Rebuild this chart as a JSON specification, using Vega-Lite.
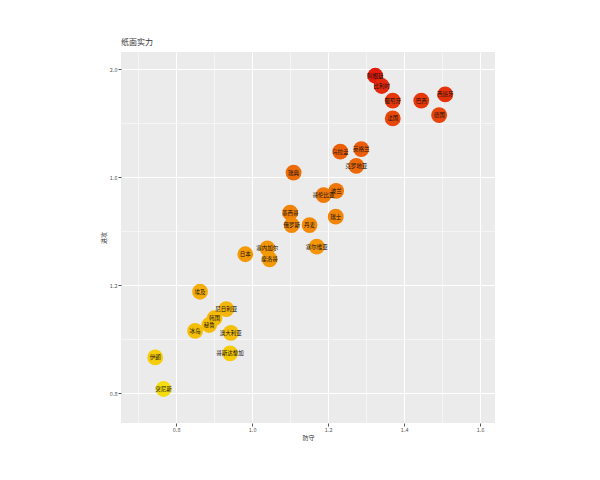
{
  "$schema": "https://vega.github.io/schema/vega-lite/v6.json",
  "autosize": "none",
  "width": 374,
  "height": 371,
  "padding": {"left": 121, "top": 52, "right": 105, "bottom": 57},
  "background": "white",
  "title": {"text": "纸面实力", "anchor": "start", "frame": "group", "fontSize": 8, "fontWeight": "normal", "color": "#333333", "font": "Noto Sans CJK SC", "offset": 5},
  "config": {
    "view": {"fill": "#EBEBEB", "stroke": null},
    "axis": {"gridColor": "#FFFFFF", "domain": false, "tickColor": "#555555", "tickSize": 3, "labelColor": "#555555", "labelFontSize": 5.5, "labelFont": "Noto Sans CJK SC", "titleFont": "Noto Sans CJK SC", "titleFontSize": 6, "titleFontWeight": "normal", "titleColor": "#333333", "labelPadding": 1}
  },
  "data": {"values": [
    {"国家": "阿根廷", "防守": 1.324, "进攻": 1.975},
    {"国家": "比利时", "防守": 1.341, "进攻": 1.937},
    {"国家": "葡萄牙", "防守": 1.370, "进攻": 1.883},
    {"国家": "法国", "防守": 1.370, "进攻": 1.817},
    {"国家": "巴西", "防守": 1.445, "进攻": 1.883},
    {"国家": "西班牙", "防守": 1.508, "进攻": 1.906},
    {"国家": "德国", "防守": 1.492, "进攻": 1.829},
    {"国家": "乌拉圭", "防守": 1.232, "进攻": 1.694},
    {"国家": "英格兰", "防守": 1.287, "进攻": 1.703},
    {"国家": "克罗地亚", "防守": 1.274, "进攻": 1.641},
    {"国家": "瑞典", "防守": 1.109, "进攻": 1.616},
    {"国家": "波兰", "防守": 1.221, "进攻": 1.549},
    {"国家": "哥伦比亚", "防守": 1.188, "进攻": 1.533},
    {"国家": "墨西哥", "防守": 1.100, "进攻": 1.468},
    {"国家": "俄罗斯", "防守": 1.104, "进攻": 1.422},
    {"国家": "丹麦", "防守": 1.151, "进攻": 1.422},
    {"国家": "瑞士", "防守": 1.220, "进攻": 1.453},
    {"国家": "塞尔维亚", "防守": 1.170, "进攻": 1.342},
    {"国家": "日本", "防守": 0.982, "进攻": 1.314},
    {"国家": "塞内加尔", "防守": 1.040, "进攻": 1.336},
    {"国家": "摩洛哥", "防守": 1.046, "进攻": 1.295},
    {"国家": "埃及", "防守": 0.863, "进攻": 1.175},
    {"国家": "尼日利亚", "防守": 0.932, "进攻": 1.111},
    {"国家": "韩国", "防守": 0.901, "进攻": 1.077},
    {"国家": "秘鲁", "防守": 0.887, "进攻": 1.052},
    {"国家": "冰岛", "防守": 0.850, "进攻": 1.030},
    {"国家": "澳大利亚", "防守": 0.944, "进攻": 1.023},
    {"国家": "哥斯达黎加", "防守": 0.942, "进攻": 0.947},
    {"国家": "伊朗", "防守": 0.745, "进攻": 0.932},
    {"国家": "突尼斯", "防守": 0.767, "进攻": 0.815}
  ]},
  "layer": [
    {
      "mark": {"type": "point", "opacity": 0},
      "encoding": {
        "x": {"field": "防守", "type": "quantitative", "scale": {"domain": [0.655, 1.639], "nice": false, "zero": false},
              "axis": {"orient": "bottom", "values": [0.7, 0.9, 1.1, 1.3, 1.5], "grid": true, "gridWidth": 0.5, "labels": false, "ticks": false, "title": null}},
        "y": {"field": "进攻", "type": "quantitative", "scale": {"domain": [0.689, 2.063], "nice": false, "zero": false},
              "axis": {"orient": "left", "values": [1.0, 1.4, 1.8], "grid": true, "gridWidth": 0.5, "labels": false, "ticks": false, "title": null}}
      }
    },
    {
      "mark": {"type": "circle", "size": 250, "opacity": 1},
      "encoding": {
        "x": {"field": "防守", "type": "quantitative", "axis": {"orient": "bottom", "values": [0.8, 1.0, 1.2, 1.4, 1.6], "format": ".1f", "grid": true, "gridWidth": 1, "title": "防守", "titlePadding": 2}},
        "y": {"field": "进攻", "type": "quantitative", "axis": {"orient": "left", "values": [0.8, 1.2, 1.6, 2.0], "format": ".1f", "grid": true, "gridWidth": 1, "title": "进攻", "titlePadding": 3}},
        "color": {"field": "进攻", "type": "quantitative", "scale": {"range": ["#f5dc0c", "#e41a0c"], "interpolate": "lab"}, "legend": null}
      }
    },
    {
      "mark": {"type": "text", "fontSize": 5.5, "font": "Noto Sans CJK SC", "color": "#111111"},
      "encoding": {
        "x": {"field": "防守", "type": "quantitative", "axis": null},
        "y": {"field": "进攻", "type": "quantitative", "axis": null},
        "text": {"field": "国家", "type": "nominal"}
      }
    }
  ],
  "resolve": {"axis": {"x": "independent", "y": "independent"}}
}
